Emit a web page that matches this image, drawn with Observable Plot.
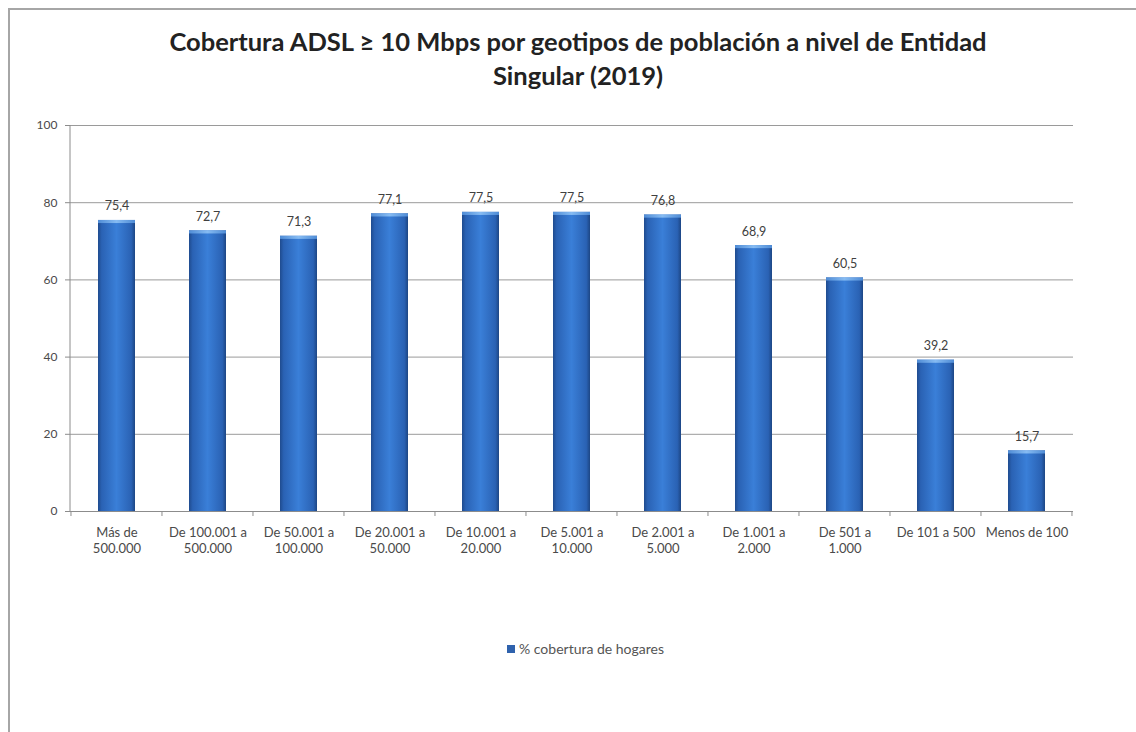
<!DOCTYPE html>
<html>
<head>
<meta charset="utf-8">
<script src="https://cdn.jsdelivr.net/npm/d3@7"></script>
<script src="https://cdn.jsdelivr.net/npm/@observablehq/plot@0.6"></script>
<style>
  html, body { margin: 0; padding: 0; background: #fff; overflow: hidden; }
  body { width: 1136px; height: 732px; position: relative; font-family: Lato, "Open Sans", sans-serif; }
  #frame { position: absolute; left: 8px; top: 8px; width: 1150px; height: 760px; border: 2px solid #a6a6a6; box-sizing: border-box; }
  #title { position: absolute; left: 3px; top: 24px; width: 1150px; text-align: center; font-weight: 700; font-size: 25.5px; line-height: 34px; color: #222; }
  #chart { position: absolute; left: 0; top: 100px; }
  #legend { position: absolute; left: 507px; top: 640px; font-size: 14px; color: #555; display: flex; align-items: center; }
  #legend span.sw { display: inline-block; width: 8px; height: 8px; background: #2f62ad; margin-right: 4px; }
</style>
</head>
<body>
<div id="frame"></div>
<div id="title">Cobertura ADSL ≥ 10 Mbps por geotipos de población a nivel de Entidad<br>Singular (2019)</div>
<div id="chart"></div>
<div id="legend"><span class="sw"></span>% cobertura de hogares</div>
<script>
// Population size groups (Entidad Singular geotypes)
const categories = [
  "Más de\n500.000", "De 100.001 a\n500.000", "De 50.001 a\n100.000", "De 20.001 a\n50.000",
  "De 10.001 a\n20.000", "De 5.001 a\n10.000", "De 2.001 a\n5.000", "De 1.001 a\n2.000",
  "De 501 a\n1.000", "De 101 a 500", "Menos de 100"
];
// % household coverage ADSL >= 10 Mbps
const coverage = [75.4, 72.7, 71.3, 77.1, 77.5, 77.5, 76.8, 68.9, 60.5, 39.2, 15.7];
const yTicks = [0, 20, 40, 60, 80, 100];

const data = categories.map((c, i) => ({cat: c, value: coverage[i]}));
const fmt = v => v.toFixed(1).replace(".", ",");
const pad = 0.594;

// Small tick marks on the category axis, at the boundaries between bands,
// plus the vertical value-axis line
function axisLines(index, scales, values, dims) {
  const x = scales.x;
  const step = x(categories[1]) - x(categories[0]);
  const y0 = dims.height - dims.marginBottom;
  const g = d3.create("svg:g").attr("stroke", "#8c8c8c");
  const xs = categories.map(c => x(c) - step * pad / 2);
  xs.push(xs[xs.length - 1] + step);
  for (const px of xs) g.append("line").attr("x1", px).attr("x2", px).attr("y1", y0).attr("y2", y0 + 5);
  g.append("line")
    .attr("x1", dims.marginLeft).attr("x2", dims.marginLeft)
    .attr("y1", dims.marginTop).attr("y2", y0);
  return g.node();
}

const chart = Plot.plot({
  width: 1136,
  height: 480,
  marginTop: 25,
  marginBottom: 69,
  marginLeft: 70,
  marginRight: 63,
  style: {fontFamily: "Lato, 'Open Sans', sans-serif", fontSize: "12px", color: "#4a4a4a", background: "transparent"},
  x: {domain: categories, paddingInner: pad, paddingOuter: pad / 2, label: null},
  y: {domain: [0, 100], ticks: yTicks, label: null},
  marks: [
    Plot.gridY(yTicks, {stroke: "#9a9a9a", strokeOpacity: 1, strokeWidth: 1}),
    Plot.axisY(yTicks, {tickSize: 5, tickPadding: 8, fontSize: 12, stroke: "#8c8c8c", fill: "#4a4a4a", label: null}),
    Plot.axisX({tickSize: 0, tickPadding: 14, fontSize: 13, lineHeight: 1.25, fill: "#4a4a4a", label: null}),
    Plot.barY(data, {x: "cat", y: "value", fill: "url(#barGrad)"}),
    Plot.barY(data, {x: "cat", y1: d => d.value - 0.8, y2: "value", fill: "url(#capGrad)"}),
    Plot.ruleY([0], {stroke: "#8c8c8c"}),
    axisLines,
    Plot.text(data, {x: "cat", y: "value", text: d => fmt(d.value), dy: -14, fontSize: 12.5, fill: "#404040"})
  ]
});

// Cylinder-style shading for the bars
const svg = d3.select(chart);
const defs = svg.insert("defs", ":first-child");
const g1 = defs.append("linearGradient").attr("id", "barGrad").attr("x1", 0).attr("x2", 1).attr("y1", 0).attr("y2", 0);
[[0, "#1f4b8e"], [0.1, "#2a62b4"], [0.5, "#3a7fd8"], [0.9, "#2a62b4"], [1, "#1d4684"]]
  .forEach(([o, c]) => g1.append("stop").attr("offset", o).attr("stop-color", c));
const g2 = defs.append("linearGradient").attr("id", "capGrad").attr("x1", 0).attr("x2", 1).attr("y1", 0).attr("y2", 0);
[[0, "#4f8cd6"], [0.5, "#86bbf2"], [1, "#4f8cd6"]]
  .forEach(([o, c]) => g2.append("stop").attr("offset", o).attr("stop-color", c));

document.getElementById("chart").appendChild(chart);
</script>
</body>
</html>
